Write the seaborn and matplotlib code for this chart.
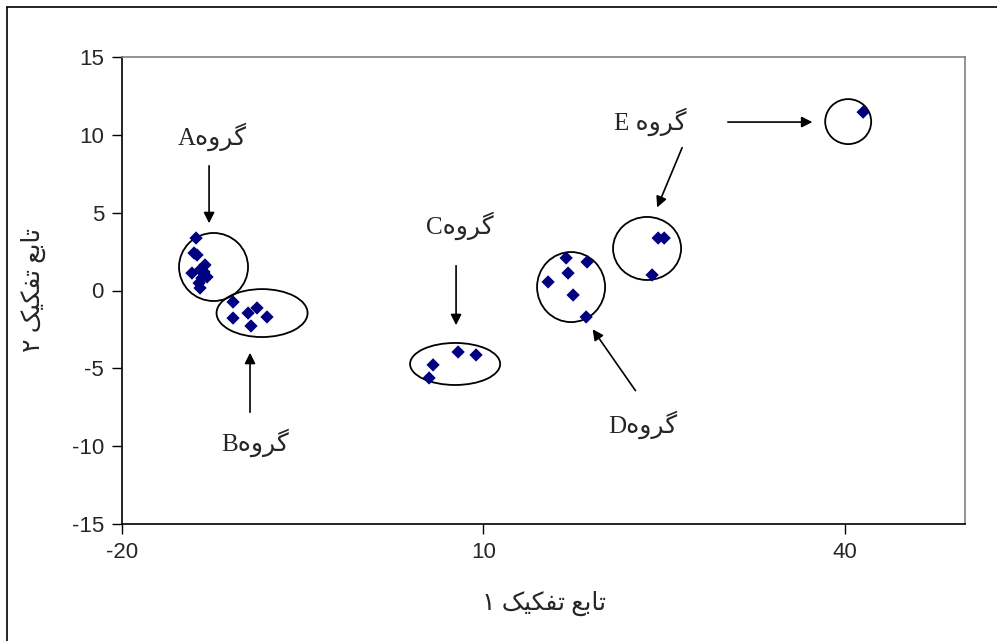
import matplotlib
matplotlib.use('Agg')
import matplotlib.pyplot as plt
from matplotlib.patches import Ellipse
from matplotlib.lines import Line2D
import numpy as np
import pandas as pd
import seaborn as sns

# Discriminant scores, one pair of lists per group
group_a_x = [-13.85, -14.02, -13.77, -13.52, -14.19, -13.11, -12.94, -13.36, -13.52, -13.6, -13.19]
group_a_y = [3.37, 2.41, 2.28, 1.32, 1.12, 1.64, 0.87, 0.80, 0.16, 0.48, 1.19]
group_b_x = [-10.78, -10.78, -9.53, -8.79, -9.29, -7.96]
group_b_y = [-0.74, -1.77, -1.45, -1.12, -2.28, -1.70]
group_c_x = [7.91, 9.40, 5.83, 5.50]
group_c_y = [-3.95, -4.14, -4.78, -5.62]
group_d_x = [16.88, 18.62, 17.04, 15.38, 17.46, 18.54]
group_d_y = [2.09, 1.83, 1.12, 0.55, -0.29, -1.70]
group_e_x = [24.52, 25.02, 24.02, 41.54]
group_e_y = [3.37, 3.37, 1.00, 11.46]

x_ticks = [-20, 10, 40]
y_ticks = [-15, -10, -5, 0, 5, 10, 15]

# Persian text, written as presentation forms in visual order (no shaping in matplotlib)
GROUP = '\uFEE9\uFEED\uFEAE\uFB94'
X_LABEL = '\u06F1 \uFB8F\uFBFF\uFB91\uFED4\uFE97 \uFECA\uFE91\uFE8E\uFE97'
Y_LABEL = '\u06F2 \uFB8F\uFBFF\uFB91\uFED4\uFE97 \uFECA\uFE91\uFE8E\uFE97'

# Group outlines: centre x, centre y, width, height
ELLIPSES = [
  (-12.40, 1.51, 5.73, 4.37),
  (-8.37, -1.45, 7.56, 3.08),
  (7.66, -4.72, 7.48, 2.70),
  (17.29, 0.22, 5.65, 4.50),
  (23.60, 2.70, 5.65, 4.05),
  (40.30, 10.85, 3.82, 2.89),
]

# Label text, label position, arrow start, arrow tip
CALLOUTS = [
  ('A' + GROUP, (-12.5, 9.86), (-12.77, 8.19), (-12.77, 4.14)),
  ('B' + GROUP, (-8.95, -9.79), (-9.37, -8.0), (-9.37, -3.82)),
  ('C' + GROUP, (8.07, 4.14), (7.74, 1.77), (7.74, -2.41)),
  ('D' + GROUP, (23.27, -8.64), (22.77, -6.58), (18.95, -2.34)),
  ('E ' + GROUP, (23.85, 10.82), (26.6, 9.34), (24.35, 5.17)),
]

frames = []
for name, xs, ys in [('A', group_a_x, group_a_y), ('B', group_b_x, group_b_y),
                     ('C', group_c_x, group_c_y), ('D', group_d_x, group_d_y),
                     ('E', group_e_x, group_e_y)]:
  frames.append(pd.DataFrame({'f1': xs, 'f2': ys, 'group': name}))
data = pd.concat(frames, ignore_index=True)

sns.set_style('white')
plt.rcParams['font.family'] = ['Liberation Sans', 'DejaVu Sans']
plt.rcParams['axes.unicode_minus'] = False

figure = plt.figure(figsize=(9.97, 6.41), dpi=100)
axis = figure.add_axes([122 / 997, 1 - 524 / 641, 843 / 997, 467 / 641])

sns.scatterplot(data=data, x='f1', y='f2', marker='D', color='#000080',
                s=46, edgecolor='none', ax=axis, zorder=3)

for cx, cy, w, h in ELLIPSES:
  axis.add_patch(Ellipse((cx, cy), w, h, fill=False, edgecolor='black', lw=1.3, zorder=2))

label_font = ['Liberation Serif', 'DejaVu Sans']
for text, pos, start, tip in CALLOUTS:
  axis.text(pos[0], pos[1], text, ha='center', va='center', fontsize=18, family=label_font)
  axis.annotate('', xy=tip, xytext=start,
                arrowprops=dict(arrowstyle='-|>', color='black', lw=1.2, mutation_scale=16))
axis.annotate('', xy=(37.56, 10.82), xytext=(30.08, 10.82),
              arrowprops=dict(arrowstyle='-|>', color='black', lw=1.2, mutation_scale=16))

axis.set_xlim(-20, 50)
axis.set_ylim(-15, 15)
axis.set_xticks(x_ticks)
axis.set_yticks(y_ticks)
axis.tick_params(axis='both', direction='out', length=7, width=1, color='black',
                 labelsize=16, pad=6, bottom=True, left=True)

for side in ['top', 'right']:
  axis.spines[side].set_color('#808080')
  axis.spines[side].set_linewidth(1.2)
for side in ['left', 'bottom']:
  axis.spines[side].set_color('black')
  axis.spines[side].set_linewidth(1.2)

axis.set_xlabel(X_LABEL, fontsize=18, family=label_font)
axis.set_ylabel(Y_LABEL, fontsize=18, family=label_font)
axis.xaxis.set_label_coords(0.5, -0.142)
axis.yaxis.set_label_coords(-0.09, 0.5)

# Chart-area border (only top and left edges fall inside the picture)
figure.add_artist(Line2D([7 / 997, 7 / 997], [0, 1 - 7 / 641], color='black', lw=1.2))
figure.add_artist(Line2D([7 / 997, 1], [1 - 7 / 641, 1 - 7 / 641], color='black', lw=1.2))

plt.savefig('out.png', dpi=100)
plt.close()
